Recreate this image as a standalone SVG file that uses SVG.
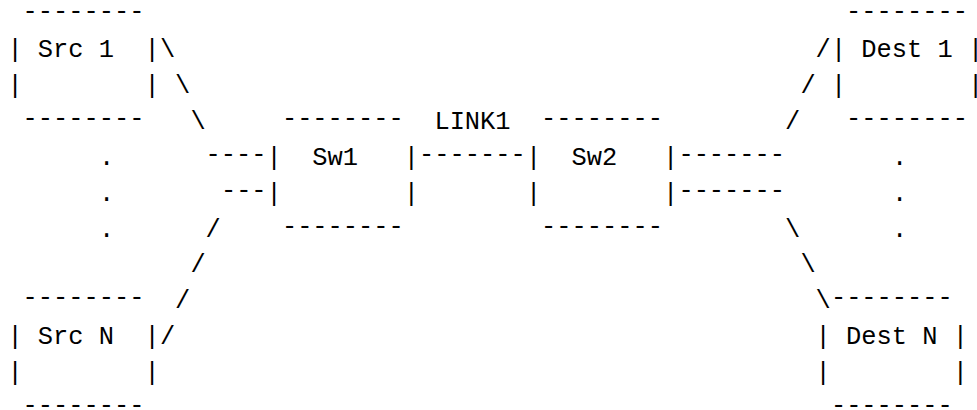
<svg xmlns="http://www.w3.org/2000/svg" width="977" height="410" viewBox="0 0 977 410">
<style>
text { font-family: "Liberation Mono", "DejaVu Sans Mono", monospace; font-size: 25.4px; fill: #000; white-space: pre; }
</style>
<rect width="977" height="410" fill="#fff"/>
<g id="src1" xml:space="preserve">
<text x="22.6" y="18.6">--------</text>
<text x="7.4" y="57.3">| Src 1  |</text>
<text x="7.4" y="93.1">|        |</text>
<text x="22.6" y="126.2">--------</text>
</g>
<g id="srcN" xml:space="preserve">
<text x="22.6" y="305.4">--------</text>
<text x="7.4" y="344.1">| Src N  |</text>
<text x="7.4" y="379.9">|        |</text>
<text x="22.6" y="413">--------</text>
</g>
<g id="sw1" xml:space="preserve">
<text x="281.9" y="126.2">--------</text>
<text x="266.6" y="164.8">|  Sw1   |</text>
<text x="266.6" y="200.7">|        |</text>
<text x="281.9" y="233.7">--------</text>
</g>
<g id="sw2" xml:space="preserve">
<text x="541.1" y="126.2">--------</text>
<text x="525.9" y="164.8">|  Sw2   |</text>
<text x="525.9" y="200.7">|        |</text>
<text x="541.1" y="233.7">--------</text>
</g>
<g id="dest1" xml:space="preserve">
<text x="846.1" y="18.6">--------</text>
<text x="830.9" y="57.3">| Dest 1 |</text>
<text x="830.9" y="93.1">|        |</text>
<text x="846.1" y="126.2">--------</text>
</g>
<g id="destN" xml:space="preserve">
<text x="830.9" y="305.4">--------</text>
<text x="815.6" y="344.1">| Dest N |</text>
<text x="815.6" y="379.9">|        |</text>
<text x="830.9" y="413">--------</text>
</g>
<g id="connectors" xml:space="preserve">
<text x="159.9" y="57.3">\</text>
<text x="175.1" y="93.1">\</text>
<text x="190.4" y="129">\</text>
<text x="205.6" y="162">----</text>
<text x="220.9" y="197.9">---</text>
<text x="205.6" y="236.5">/</text>
<text x="190.4" y="272.4">/</text>
<text x="175.1" y="308.2">/</text>
<text x="159.9" y="344.1">/</text>
<text x="419.1" y="162">-------</text>
<text x="434.4" y="129">LINK1</text>
<text x="678.4" y="162">-------</text>
<text x="678.4" y="197.9">-------</text>
<text x="815.6" y="57.3">/</text>
<text x="800.4" y="93.1">/</text>
<text x="785.1" y="129">/</text>
<text x="785.1" y="236.5">\</text>
<text x="800.4" y="272.4">\</text>
<text x="815.6" y="308.2">\</text>
</g>
<g id="ellipsis" xml:space="preserve">
<text x="98.9" y="164.8">.</text>
<text x="98.9" y="200.7">.</text>
<text x="98.9" y="236.5">.</text>
<text x="891.9" y="164.8">.</text>
<text x="891.9" y="200.7">.</text>
<text x="891.9" y="236.5">.</text>
</g>
</svg>
